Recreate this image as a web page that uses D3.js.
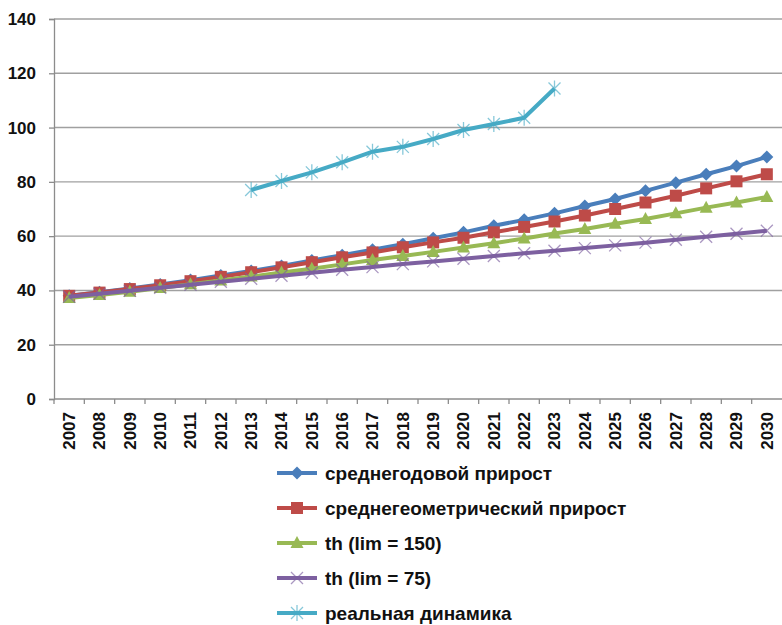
<!DOCTYPE html>
<html>
<head>
<meta charset="utf-8">
<script src="https://cdn.jsdelivr.net/npm/d3@7"></script>
<style>
  html, body { margin: 0; padding: 0; background: #fff; }
  svg { display: block; }
</style>
</head>
<body>
<div id="chart"></div>
<script>
//
// Line chart: growth forecasts vs. real dynamics, 2007-2030.
//
var years = ['2007', '2008', '2009', '2010', '2011', '2012', '2013', '2014', '2015', '2016', '2017', '2018',
             '2019', '2020', '2021', '2022', '2023', '2024', '2025', '2026', '2027', '2028', '2029', '2030'];

var avgAnnual = [38.0, 39.3, 40.7, 42.2, 43.8, 45.5, 47.2, 49.0, 51.0, 53.0, 55.0, 57.0,
                 59.2, 61.4, 63.8, 66.0, 68.4, 71.1, 73.7, 76.7, 79.7, 82.8, 85.8, 89.2];
var geomMean = [38.0, 39.2, 40.5, 41.9, 43.4, 45.0, 46.7, 48.5, 50.4, 52.2, 54.0, 55.9,
                57.7, 59.4, 61.4, 63.4, 65.4, 67.6, 70.0, 72.4, 74.9, 77.6, 80.2, 82.8];
var th150 = [37.2, 38.3, 39.5, 40.9, 42.3, 43.7, 45.1, 46.6, 48.0, 49.6, 51.2, 52.7,
             54.2, 55.8, 57.4, 59.1, 61.0, 62.6, 64.6, 66.3, 68.4, 70.5, 72.4, 74.4];
var th75 = [37.7, 38.8, 39.9, 41.0, 42.1, 43.2, 44.3, 45.4, 46.5, 47.6, 48.6, 49.7,
            50.7, 51.7, 52.7, 53.7, 54.6, 55.6, 56.6, 57.6, 58.7, 59.8, 60.9, 62.0];
// real values exist only for 2013-2023
var realYears = ['2013', '2014', '2015', '2016', '2017', '2018', '2019', '2020', '2021', '2022', '2023'];
var realValues = [77.0, 80.3, 83.5, 87.2, 91.1, 92.9, 95.8, 99.1, 101.3, 103.6, 114.4];

var seriesNames = ['среднегодовой прирост', 'среднегеометрический прирост', 'th (lim = 150)', 'th (lim = 75)', 'реальная динамика'];
var yTicks = [0, 20, 40, 60, 80, 100, 120, 140];

var colors = ['#4a7ebb', '#be4b48', '#98b954', '#7d60a0', '#46aac5'];
var markerKinds = ['diamond', 'square', 'triangle', 'cross', 'star'];

var width = 782, height = 625;
var margin = {top: 19, left: 54, right: 0};
var plotBottom = 399;

var svg = d3.select('#chart').append('svg')
    .attr('xmlns', 'http://www.w3.org/2000/svg')
    .attr('width', width)
    .attr('height', height);

var x = d3.scaleBand()
    .domain(years)
    .range([margin.left, width - margin.right]);

var y = d3.scaleLinear()
    .domain([0, 140])
    .range([plotBottom, margin.top]);

// gridlines
svg.append('g').selectAll('line')
    .data(yTicks.filter(function(d) { return d > 0; }))
    .enter().append('line')
    .attr('x1', margin.left)
    .attr('x2', width - margin.right)
    .attr('y1', function(d) { return y(d); })
    .attr('y2', function(d) { return y(d); })
    .attr('stroke', '#a0a0a0')
    .attr('stroke-width', 1.4);

// y axis
var yAxis = svg.append('g')
    .attr('transform', 'translate(' + margin.left + ',0)')
    .call(d3.axisLeft(y).tickValues(yTicks).tickSize(5).tickPadding(13));
yAxis.selectAll('line, path').attr('stroke', '#8c8c8c').attr('stroke-width', 1.3);
yAxis.selectAll('text')
    .style('font-family', '"Liberation Sans", Arial, sans-serif')
    .style('font-size', '17px')
    .style('font-weight', 'bold')
    .attr('fill', '#111');

// x axis: ticks on category boundaries, labels rotated
var xAxis = svg.append('g')
    .attr('transform', 'translate(0,' + plotBottom + ')');
xAxis.append('line')
    .attr('x1', margin.left).attr('x2', width - margin.right)
    .attr('stroke', '#8c8c8c').attr('stroke-width', 1.3);
xAxis.selectAll('line.tick')
    .data(years)
    .enter().append('line')
    .attr('class', 'tick')
    .attr('x1', function(d) { return x(d); })
    .attr('x2', function(d) { return x(d); })
    .attr('y1', 0).attr('y2', 5)
    .attr('stroke', '#8c8c8c').attr('stroke-width', 1.3);
xAxis.selectAll('text')
    .data(years)
    .enter().append('text')
    .attr('transform', function(d) {
        return 'translate(' + (x(d) + x.bandwidth() / 2) + ',13) rotate(-90)';
    })
    .attr('dy', '0.35em')
    .style('text-anchor', 'end')
    .style('font-family', '"Liberation Sans", Arial, sans-serif')
    .style('font-size', '17px')
    .style('font-weight', 'bold')
    .attr('fill', '#111')
    .text(function(d) { return d; });

// markers
function marker(g, kind, color) {
    if (kind === 'diamond') {
        g.append('path').attr('d', 'M0,-6.5L6.5,0L0,6.5L-6.5,0Z').attr('fill', color);
    } else if (kind === 'square') {
        g.append('rect').attr('x', -6).attr('y', -6).attr('width', 12).attr('height', 12).attr('fill', color);
    } else if (kind === 'triangle') {
        g.append('path').attr('d', 'M0,-7L6.5,5L-6.5,5Z').attr('fill', color);
    } else if (kind === 'cross') {
        g.append('path').attr('d', 'M-6,-6L6,6M-6,6L6,-6')
            .attr('stroke', color).attr('stroke-width', 1.3).attr('fill', 'none').attr('opacity', 0.65);
    } else if (kind === 'star') {
        g.append('path').attr('d', 'M-6,-6L6,6M-6,6L6,-6M0,-8L0,8')
            .attr('stroke', color).attr('stroke-width', 1.3).attr('fill', 'none').attr('opacity', 0.65);
    }
}

var series = [
    {cats: years, values: avgAnnual},
    {cats: years, values: geomMean},
    {cats: years, values: th150},
    {cats: years, values: th75},
    {cats: realYears, values: realValues}
];

var line = d3.line()
    .x(function(d) { return x(d.cat) + x.bandwidth() / 2; })
    .y(function(d) { return y(d.value); });

series.forEach(function(s, i) {
    var pts = s.cats.map(function(c, j) { return {cat: c, value: s.values[j]}; });
    var g = svg.append('g').attr('class', 'series');
    g.append('path')
        .datum(pts)
        .attr('d', line)
        .attr('fill', 'none')
        .attr('stroke', colors[i])
        .attr('stroke-width', 4)
        .attr('stroke-linejoin', 'round');
    g.selectAll('g.pt')
        .data(pts)
        .enter().append('g')
        .attr('class', 'pt')
        .attr('transform', function(d) { return 'translate(' + line.x()(d) + ',' + line.y()(d) + ')'; })
        .each(function() { marker(d3.select(this), markerKinds[i], colors[i]); });
});

// legend (last row sits right at the bottom edge, as in the original)
var legend = svg.append('g').attr('transform', 'translate(277,473)');
var item = legend.selectAll('g')
    .data(seriesNames)
    .enter().append('g')
    .attr('transform', function(d, i) { return 'translate(0,' + i * 35 + ')'; });
item.append('line')
    .attr('x1', 0).attr('x2', 40)
    .attr('stroke', function(d, i) { return colors[i]; })
    .attr('stroke-width', 4);
item.append('g')
    .attr('transform', 'translate(20,0)')
    .each(function(d, i) { marker(d3.select(this), markerKinds[i], colors[i]); });
item.append('text')
    .attr('x', 48)
    .attr('dy', '0.35em')
    .style('font-family', '"Liberation Sans", Arial, sans-serif')
    .style('font-size', '19px')
    .style('font-weight', 'bold')
    .attr('fill', '#111')
    .text(function(d) { return d; });
</script>
</body>
</html>
